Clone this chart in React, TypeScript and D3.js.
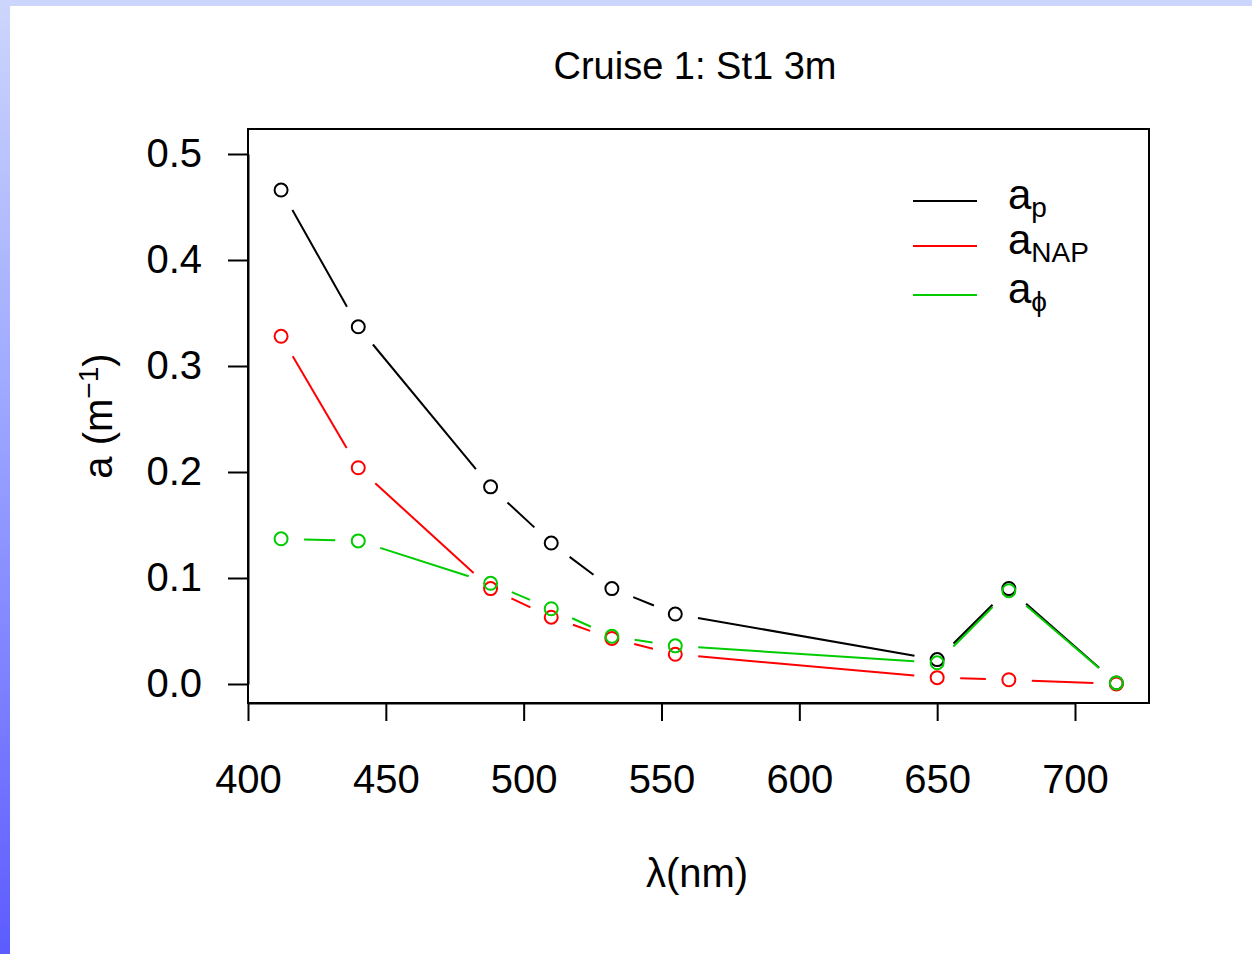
import React, { useEffect, useRef } from 'react';
import * as d3 from 'd3';

// wavelengths (nm)
const wavelengths = [412, 440, 488, 510, 532, 555, 650, 676, 715];
// absorption values (m^-1)
const apValues = [0.466, 0.337, 0.186, 0.133, 0.090, 0.066, 0.023, 0.090, 0.001];
const aNapValues = [0.328, 0.204, 0.090, 0.063, 0.043, 0.028, 0.006, 0.004, 0.0];
const aPhiValues = [0.137, 0.135, 0.095, 0.071, 0.045, 0.036, 0.020, 0.088, 0.001];

const xTicks = [400, 450, 500, 550, 600, 650, 700];
const yTicks = [0, 0.1, 0.2, 0.3, 0.4, 0.5];

const seriesList = [
  { key: 'ap', sub: 'p', values: apValues, color: '#000000' },
  { key: 'nap', sub: 'NAP', values: aNapValues, color: '#ff0000' },
  { key: 'phi', sub: 'ϕ', values: aPhiValues, color: '#00cc00' }
];

const W = 1252;
const H = 954;
const FONT = '"Liberation Sans", Arial, sans-serif';

const App: React.FC = () => {
  const svgRef = useRef<SVGSVGElement>(null);

  useEffect(() => {
    if (!svgRef.current) return;
    const svg = d3.select(svgRef.current);
    svg.selectAll('*').remove();

    // background with the blue slide border
    const defs = svg.append('defs');
    const grad = defs.append('linearGradient')
      .attr('id', 'leftGrad')
      .attr('x1', 0).attr('y1', 0).attr('x2', 0).attr('y2', 1);
    grad.append('stop').attr('offset', '0%').attr('stop-color', '#ccd6fc');
    grad.append('stop').attr('offset', '45%').attr('stop-color', '#9aa4ff');
    grad.append('stop').attr('offset', '100%').attr('stop-color', '#5c5cff');

    svg.append('rect').attr('width', W).attr('height', H).attr('fill', '#ffffff');
    svg.append('rect').attr('x', 0).attr('y', 0).attr('width', W).attr('height', 6).attr('fill', '#ccd6fc');
    svg.append('rect').attr('x', 0).attr('y', 0).attr('width', 10).attr('height', H).attr('fill', 'url(#leftGrad)');

    const box = { left: 248, right: 1149, top: 129, bottom: 703 };

    const x = d3.scaleLinear().domain([400, 700]).range([248, 1075]);
    const y = d3.scaleLinear().domain([0, 0.5]).range([684, 154]);

    const g = svg.append('g');

    // plot box
    g.append('rect')
      .attr('x', box.left)
      .attr('y', box.top)
      .attr('width', box.right - box.left)
      .attr('height', box.bottom - box.top)
      .attr('fill', 'none')
      .attr('stroke', '#000')
      .attr('stroke-width', 2);

    // x axis
    const xAxis = g.append('g')
      .attr('transform', `translate(0,${box.bottom})`)
      .call(d3.axisBottom(x).tickValues(xTicks).tickSize(18).tickPadding(44).tickSizeOuter(0));
    xAxis.select('.domain').attr('stroke-width', 2);
    xAxis.selectAll('.tick line').attr('stroke-width', 2);
    xAxis.selectAll('.tick text')
      .attr('font-family', FONT)
      .attr('font-size', 40)
      .attr('fill', '#000');

    // y axis
    const yAxis = g.append('g')
      .attr('transform', `translate(${box.left},0)`)
      .call(d3.axisLeft(y).tickValues(yTicks).tickSize(20).tickPadding(26).tickSizeOuter(0)
        .tickFormat(d3.format('.1f')));
    yAxis.select('.domain').attr('stroke-width', 2);
    yAxis.selectAll('.tick line').attr('stroke-width', 2);
    yAxis.selectAll('.tick text')
      .attr('font-family', FONT)
      .attr('font-size', 40)
      .attr('fill', '#000');

    // broken lines (R type = "b")
    const gap = 23;
    seriesList.forEach(s => {
      const pts = wavelengths.map((w, i) => [x(w), y(s.values[i])] as [number, number]);
      const segs: [number, number, number, number][] = [];
      for (let i = 1; i < pts.length; i++) {
        const [x0, y0] = pts[i - 1];
        const [x1, y1] = pts[i];
        const len = Math.hypot(x1 - x0, y1 - y0);
        const f = gap / len;
        if (f < 0.5) {
          segs.push([
            x0 + f * (x1 - x0), y0 + f * (y1 - y0),
            x1 - f * (x1 - x0), y1 - f * (y1 - y0)
          ]);
        }
      }
      g.append('g').selectAll('line')
        .data(segs)
        .enter()
        .append('line')
        .attr('x1', d => d[0]).attr('y1', d => d[1])
        .attr('x2', d => d[2]).attr('y2', d => d[3])
        .attr('stroke', s.color)
        .attr('stroke-width', 2);

      g.append('g').selectAll('circle')
        .data(pts)
        .enter()
        .append('circle')
        .attr('cx', d => d[0])
        .attr('cy', d => d[1])
        .attr('r', 6.5)
        .attr('fill', 'none')
        .attr('stroke', s.color)
        .attr('stroke-width', 2);
    });

    // legend
    const legend = g.append('g');
    const legendY = [201, 246, 295];
    seriesList.forEach((s, i) => {
      legend.append('line')
        .attr('x1', 913).attr('x2', 977)
        .attr('y1', legendY[i]).attr('y2', legendY[i])
        .attr('stroke', s.color)
        .attr('stroke-width', 2);
      const t = legend.append('text')
        .attr('x', 1008)
        .attr('y', legendY[i] + 8)
        .attr('font-family', FONT)
        .attr('font-size', 42)
        .attr('fill', '#000');
      t.append('tspan').text('a');
      t.append('tspan')
        .attr('dy', 8)
        .attr('font-size', 28)
        .text(s.sub);
    });

    // title
    svg.append('text')
      .attr('x', 695)
      .attr('y', 79)
      .attr('text-anchor', 'middle')
      .attr('font-family', FONT)
      .attr('font-size', 38)
      .attr('fill', '#000')
      .text('Cruise 1: St1 3m');

    // x label
    svg.append('text')
      .attr('x', 697)
      .attr('y', 887)
      .attr('text-anchor', 'middle')
      .attr('font-family', FONT)
      .attr('font-size', 40)
      .attr('fill', '#000')
      .text('λ(nm)');

    // y label
    const yl = svg.append('text')
      .attr('transform', 'translate(112,416) rotate(-90)')
      .attr('text-anchor', 'middle')
      .attr('font-family', FONT)
      .attr('font-size', 40)
      .attr('fill', '#000');
    yl.append('tspan').text('a (m');
    yl.append('tspan').attr('dy', -14).attr('font-size', 28).text('−1');
    yl.append('tspan').attr('dy', 14).text(')');
  }, []);

  return (
    <svg
      ref={svgRef}
      width={W}
      height={H}
      style={{ position: 'absolute', left: 0, top: 0, display: 'block' }}
    />
  );
};

export default App;
